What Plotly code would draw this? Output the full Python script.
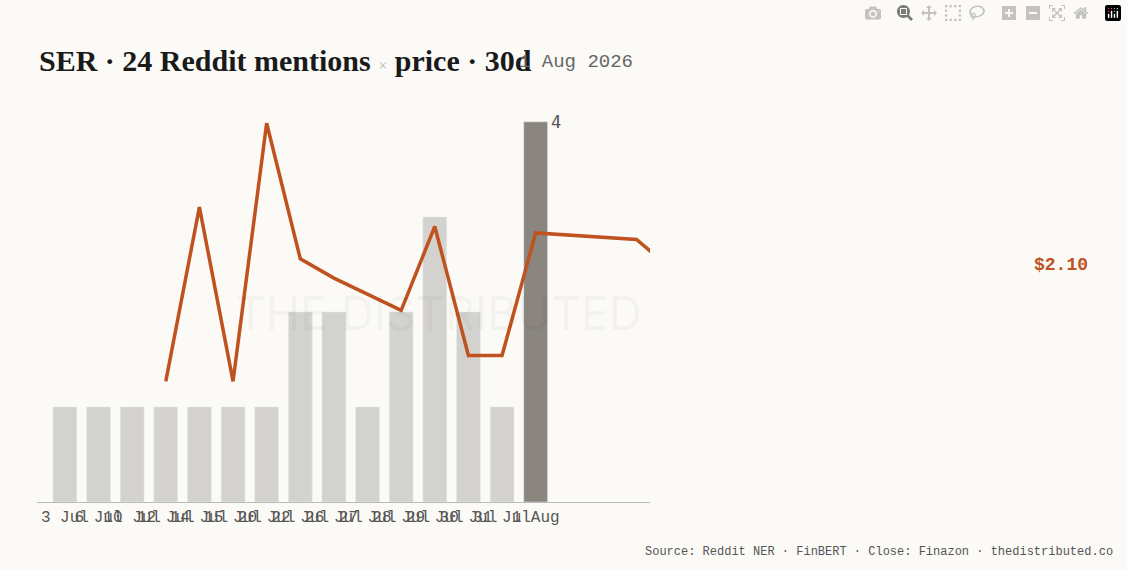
import plotly.graph_objects as go

dates = ["3 Jul","6 Jul","10 Jul","12 Jul","14 Jul","15 Jul","20 Jul","22 Jul","26 Jul","27 Jul","28 Jul","29 Jul","30 Jul","31 Jul","1 Aug"]
mentions = [1,1,1,1,1,1,1,2,2,1,2,3,2,1,4]
price_x = [3,4,5,6,7,8,10,11,12,13,14,17,17.45]
price = [1.90,2.17,1.90,2.30,2.09,2.06,2.01,2.14,1.94,1.94,2.13,2.12,2.10]

idx = list(range(len(dates)))
colors = ["#d3d2cf"]*(len(dates)-1) + ["#8a857e"]

fig = go.Figure()
fig.add_trace(go.Bar(x=idx, y=mentions, marker_color=colors, width=0.71, showlegend=False))
fig.add_trace(go.Scatter(x=price_x, y=price, yaxis="y2", mode="lines",
                         line=dict(color="#c0521f", width=3.5), showlegend=False, cliponaxis=True))
fig.add_annotation(x=14.4, y=4, text="4", showarrow=False, xanchor="left", yanchor="middle",
                   font=dict(family="DejaVu Sans Mono", size=17, color="#555"))
fig.update_layout(
    width=1127, height=570, paper_bgcolor="#fbfaf7", plot_bgcolor="#fbfaf7",
    margin=dict(l=37, r=477, t=100, b=68),
    xaxis=dict(range=[-0.83, 17.4], tickmode="array", tickvals=idx, ticktext=dates,
               tickangle=0, showgrid=False, zeroline=False, showline=True, linecolor="#bbb",
               tickfont=dict(family="Liberation Mono", size=16, color="#555"), ticks=""),
    yaxis=dict(range=[0, 4.23], visible=False),
    yaxis2=dict(range=[1.713, 2.336], overlaying="y", visible=False),
    font=dict(family="DejaVu Sans Mono"),
)
fig.add_annotation(xref="paper", yref="paper", x=0.5, y=0.47, text="THE DISTRIBUTED", showarrow=False,
                   font=dict(family="Inter", size=46, color="rgba(0,0,0,0.05)"), xshift=95)
fig.add_annotation(xref="paper", yref="paper", x=0, y=1, yshift=40, xanchor="left", yanchor="middle",
                   text="<b>SER · 24 Reddit mentions</b> <span style='color:#bbb;font-size:16px'>×</span> <b>price · 30d</b>",
                   showarrow=False, font=dict(family="Liberation Serif", size=30, color="#1a1a1a"))
fig.add_annotation(xref="paper", yref="paper", x=0, y=1, xshift=480, yshift=38, xanchor="left", yanchor="middle",
                   text="1 Aug 2026", showarrow=False, font=dict(family="Liberation Mono", size=19, color="#666"))
fig.add_annotation(xref="paper", yref="y2", x=1, xshift=440, y=2.08, xanchor="right", yanchor="middle",
                   text="<b>$2.10</b>", showarrow=False, font=dict(family="Liberation Mono", size=18, color="#c0521f"))
fig.add_annotation(xref="paper", yref="paper", x=1, xshift=465, y=0, yshift=-50, xanchor="right", yanchor="middle",
                   text="Source: Reddit NER · FinBERT · Close: Finazon · thedistributed.co", showarrow=False,
                   font=dict(family="Liberation Mono", size=12, color="#555"))
fig.write_html("out.html", post_script="document.body.style.margin='0';document.body.style.background='#fbfaf7';")
